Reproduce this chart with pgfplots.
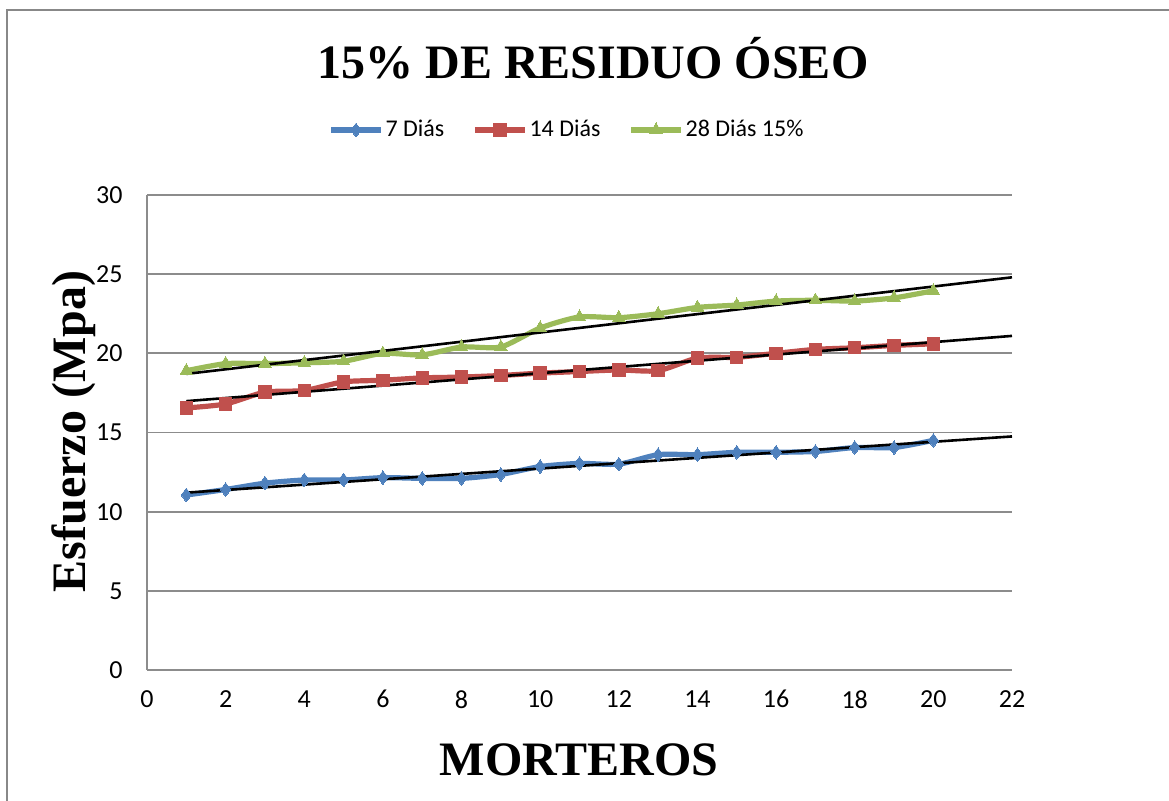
\documentclass[border=0pt]{standalone}
\usepackage{pgfplots}
\pgfplotsset{compat=1.18}
\usepackage{fontspec}
\setmainfont{Carlito}
\newfontfamily\tnr{Liberation Serif}

\definecolor{serA}{HTML}{4F81BD}
\definecolor{serB}{HTML}{C0504D}
\definecolor{serC}{HTML}{9BBB59}
\definecolor{frameGray}{HTML}{888888}
\definecolor{gridGray}{HTML}{8C8C8C}

\begin{document}
\begin{tikzpicture}
\useasboundingbox (0,0) rectangle (584.5pt,400.5pt);
% chart frame
\draw[frameGray, line width=1.2pt] (3.5pt,0pt) -- (3.5pt,395.5pt) -- (584.5pt,395.5pt);

\begin{axis}[
  at={(73.5pt,65.5pt)}, anchor=south west,
  width=432.5pt, height=237.5pt, scale only axis,
  xmin=0, xmax=22, ymin=0, ymax=30,
  xtick={0,2,...,22}, ytick={0,5,...,30},
  axis x line=bottom, axis y line=left,
  axis line style={-, draw=gridGray, line width=0.9pt},
  major tick length=0pt,
  ymajorgrids, grid style={draw=gridGray, line width=0.9pt},
  tick label style={font=\fontsize{13}{15}\selectfont},
  /pgf/number format/assume math mode=true,
  yticklabel style={anchor=east, inner sep=0pt, xshift=-12pt},
  xticklabel style={anchor=north, inner sep=0pt, yshift=-10pt},
  legend style={draw=none, fill=none, at={(0.4855,1.1368)}, anchor=center,
    font=\fontsize{12}{14}\selectfont, inner sep=0pt,
    nodes={inner sep=1pt},
    /tikz/every even column/.append style={column sep=13pt}},
  legend columns=3,
  legend image code/.code={\draw[mark repeat=2,mark phase=2,#1]
    plot coordinates {(0pt,0pt) (12.5pt,0pt) (25pt,0pt)};},
  clip=false,
]
\addplot[serA, line width=2.6pt, smooth, tension=0.4, mark=diamond*, mark size=3.4pt,
  mark options={fill=serA, draw=serA, line width=0pt}] coordinates {
  (1,11.05) (2,11.4) (3,11.8) (4,12.0) (5,12.0) (6,12.15) (7,12.1) (8,12.1)
  (9,12.35) (10,12.85) (11,13.05) (12,13.0) (13,13.6) (14,13.6) (15,13.75)
  (16,13.75) (17,13.8) (18,14.05) (19,14.05) (20,14.5)};
\addlegendentry{7 Diás}
\addplot[serB, line width=2.6pt, smooth, tension=0.4, mark=square*, mark size=3.1pt,
  mark options={fill=serB, draw=serB, line width=0pt}] coordinates {
  (1,16.55) (2,16.8) (3,17.55) (4,17.65) (5,18.2) (6,18.3) (7,18.45) (8,18.5)
  (9,18.6) (10,18.75) (11,18.85) (12,18.95) (13,18.9) (14,19.7) (15,19.75)
  (16,20.0) (17,20.25) (18,20.35) (19,20.5) (20,20.6)};
\addlegendentry{14 Diás}
\addplot[serC, line width=2.6pt, smooth, tension=0.4, mark=triangle*, mark size=3.6pt,
  mark options={fill=serC, draw=serC, line width=0pt}] coordinates {
  (1,18.9) (2,19.35) (3,19.35) (4,19.4) (5,19.5) (6,20.0) (7,19.9) (8,20.4)
  (9,20.4) (10,21.6) (11,22.3) (12,22.25) (13,22.5) (14,22.9) (15,23.05)
  (16,23.3) (17,23.35) (18,23.3) (19,23.5) (20,23.95)};
\addlegendentry{28 Diás 15\%}

% linear trend lines, forecast forward to 22
\addplot[black, line width=1.3pt, forget plot] coordinates {(1,11.2) (22,14.75)};
\addplot[black, line width=1.3pt, forget plot] coordinates {(1,16.98) (22,21.1)};
\addplot[black, line width=1.3pt, forget plot] coordinates {(1,18.7) (22,24.8)};
\end{axis}

\node[anchor=base, inner sep=0pt, font=\tnr\bfseries\fontsize{24}{28}\selectfont]
  at (296.5pt,361pt) {15\% DE RESIDUO ÓSEO};
\node[anchor=base, inner sep=0pt, font=\tnr\bfseries\fontsize{24}{28}\selectfont]
  at (289.5pt,12.5pt) {MORTEROS};
\node[anchor=base, inner sep=0pt, rotate=90, font=\tnr\bfseries\fontsize{24}{28}\selectfont]
  at (42.5pt,184.75pt) {Esfuerzo (Mpa)};
\end{tikzpicture}
\end{document}
